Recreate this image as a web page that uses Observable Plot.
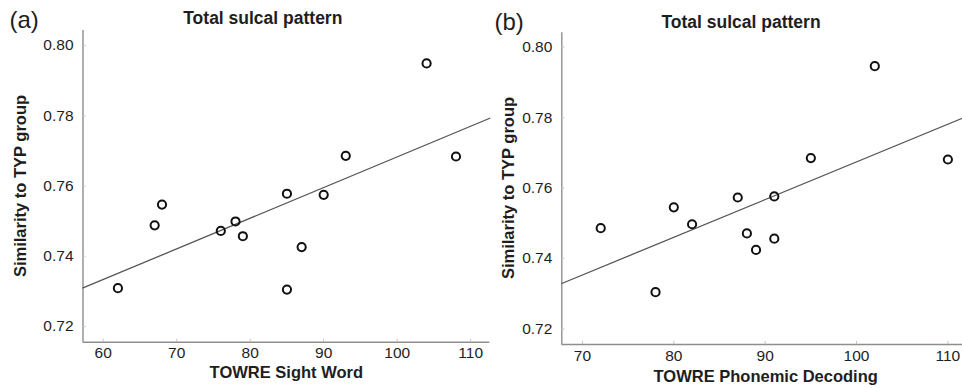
<!DOCTYPE html>
<html>
<head>
<meta charset="utf-8">
<script src="https://cdn.jsdelivr.net/npm/d3@7"></script>
<script src="https://cdn.jsdelivr.net/npm/@observablehq/plot@0.6"></script>
<style>
  body { margin: 0; background: #fff; font-family: "Liberation Sans", Arial, sans-serif; }
  #wrap { position: relative; width: 962px; height: 388px; overflow: hidden; background: #fff; }
  .panel { position: absolute; top: 0; }
  .panel svg text { font-size: 15.5px !important; font-family: "Liberation Sans", Arial, sans-serif !important; }
  .lab { position: absolute; line-height: 1; white-space: nowrap; color: #1e1e1e; }
  .bold { font-weight: bold; }
</style>
</head>
<body>
<div id="wrap"></div>
<script>
// ---- data ----
const panelLetters = ["(a)", "(b)"];
const panelTitles = ["Total sulcal pattern", "Total sulcal pattern"];
const xLabels = ["TOWRE Sight Word", "TOWRE Phonemic Decoding"];
const yLabel = "Similarity to TYP group";

const sightWord   = [62, 67, 68, 76, 78, 79, 85, 85, 87, 90, 93, 104, 108];
const similarityA = [0.7309, 0.7488, 0.7547, 0.7472, 0.7499, 0.7457, 0.7578, 0.7305, 0.7426, 0.7575, 0.7686, 0.7949, 0.7684];

const phonemicDecoding = [72, 78, 80, 82, 87, 88, 89, 91, 91, 95, 102, 110];
const similarityB      = [0.7486, 0.7304, 0.7545, 0.7497, 0.7573, 0.7471, 0.7424, 0.7576, 0.7456, 0.7685, 0.7946, 0.7681];

const xTicksA = [60, 70, 80, 90, 100, 110];
const xTicksB = [70, 80, 90, 100, 110];
const yTicks  = [0.72, 0.74, 0.76, 0.78, 0.80];

// ---- helpers ----
function ols(xs, ys) {
  const mx = d3.mean(xs), my = d3.mean(ys);
  let sxy = 0, sxx = 0;
  xs.forEach((x, i) => { sxy += (x - mx) * (ys[i] - my); sxx += (x - mx) ** 2; });
  const b = sxy / sxx;
  return {a: my - b * mx, b};
}

function panel({xs, ys, xTicks, xDomain, yDomain, width, mL, mR, mT, mB}) {
  const data = xs.map((x, i) => ({x, y: ys[i]}));
  const fit = ols(xs, ys);
  const fitLine = xDomain.map(x => ({x, y: fit.a + fit.b * x}));
  const axisColor = "#8e8e8e";
  return Plot.plot({
    width, height: 388,
    marginLeft: mL, marginRight: mR, marginTop: mT, marginBottom: mB,
    x: {domain: xDomain, label: null},
    y: {domain: yDomain, label: null},
    style: {fontFamily: "'Liberation Sans', Arial, sans-serif", fontSize: "15.5px", background: "transparent", overflow: "visible", color: "#1e1e1e"},
    marks: [
      Plot.ruleX([xDomain[0]], {stroke: axisColor, strokeWidth: 1.4}),
      Plot.ruleY([yDomain[0]], {stroke: axisColor, strokeWidth: 1.4}),
      Plot.axisX(xTicks, {tickSize: -3, tickPadding: 8, stroke: "#c4c4c4", fill: "#1e1e1e", label: null}),
      Plot.axisY(yTicks, {tickSize: -3, tickPadding: 12.5, stroke: "#c4c4c4", fill: "#1e1e1e", tickFormat: d3.format(".2f"), label: null}),
      Plot.line(fitLine, {x: "x", y: "y", stroke: "#555", strokeWidth: 1.3}),
      Plot.dot(data, {x: "x", y: "y", r: 4.1, stroke: "#111", strokeWidth: 2, fill: "none"})
    ]
  });
}

const wrap = document.getElementById("wrap");

function place(node, left, width) {
  const d = document.createElement("div");
  d.className = "panel";
  d.style.left = left + "px";
  d.style.width = width + "px";
  d.appendChild(node);
  wrap.appendChild(d);
}

place(panel({xs: sightWord, ys: similarityA, xTicks: xTicksA, xDomain: [57.25, 112.6], yDomain: [0.71553, 0.80427],
             width: 495, mL: 82.5, mR: 5.7, mT: 30, mB: 46.3}), 0, 495);
place(panel({xs: phonemicDecoding, ys: similarityB, xTicks: xTicksB, xDomain: [67.74, 111.6], yDomain: [0.71554, 0.80409],
             width: 481, mL: 80.3, mR: 0, mT: 32.3, mB: 44}), 481, 481);

function label(text, {cx, left, top, size, bold, rotate}) {
  const s = document.createElement("div");
  s.className = "lab" + (bold ? " bold" : "");
  s.textContent = text;
  s.style.fontSize = size + "px";
  s.style.top = top + "px";
  if (left != null) s.style.left = left + "px";
  if (cx != null) {
    s.style.left = cx + "px";
    s.style.transform = rotate ? "translate(-50%, -50%) rotate(-90deg)" : "translateX(-50%)";
  }
  wrap.appendChild(s);
}

label(panelLetters[0], {left: 9.5, top: 8, size: 24});
label(panelLetters[1], {left: 494.5, top: 9.7, size: 24});
label(panelTitles[0], {cx: 262.8, top: 10.2, size: 17.5, bold: true});
label(panelTitles[1], {cx: 741, top: 13.5, size: 17.5, bold: true});
label(xLabels[0], {cx: 286.3, top: 364, size: 16.5, bold: true});
label(xLabels[1], {cx: 765.7, top: 367.7, size: 16.5, bold: true});
label(yLabel, {cx: 19.8, top: 185.8, size: 16.5, bold: true, rotate: true});
label(yLabel, {cx: 508.3, top: 188.3, size: 16.5, bold: true, rotate: true});
</script>
</body>
</html>
